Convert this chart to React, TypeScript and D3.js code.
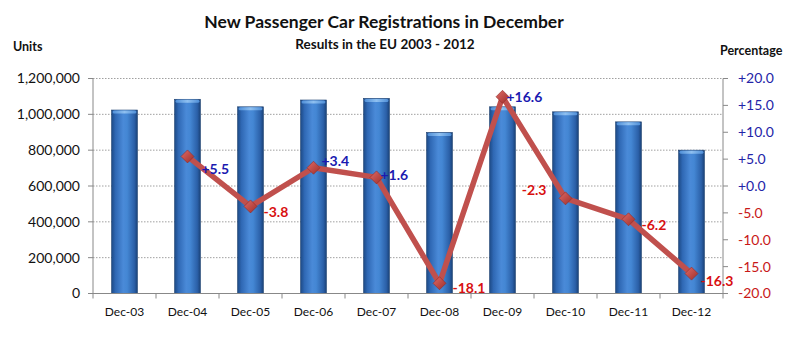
import React from "react";
import * as d3 from "d3";

const categories = ["Dec-03", "Dec-04", "Dec-05", "Dec-06", "Dec-07", "Dec-08", "Dec-09", "Dec-10", "Dec-11", "Dec-12"];
const units = [1024000, 1084000, 1042000, 1080000, 1089000, 899000, 1042000, 1014000, 958000, 800000];
const pctCategories = ["Dec-04", "Dec-05", "Dec-06", "Dec-07", "Dec-08", "Dec-09", "Dec-10", "Dec-11", "Dec-12"];
const pctChange = [5.5, -3.8, 3.4, 1.6, -18.1, 16.6, -2.3, -6.2, -16.3];
const leftTicks = [0, 200000, 400000, 600000, 800000, 1000000, 1200000];
const rightTicks = [20, 15, 10, 5, 0, -5, -10, -15, -20];
// label offsets relative to the marker (layout, not data)
const labelOffsets: [number, number, string][] = [
  [14, 13, "start"], [13, 6, "start"], [8, -7, "start"], [4, -2, "start"],
  [13, 5, "start"], [4, 0, "start"], [-19, -8, "end"], [13, 6, "start"], [9, 7, "start"],
];

const W = 800, H = 342;
const left = 93, right = 723, top = 78.5, bottom = 293.5;
const FONT = "Lato, 'Open Sans', sans-serif";
const BLUE = "#1a1ab0";
const RED = "#d81010";

export default function App() {
  const x = d3.scaleBand<string>().domain(categories).range([left, right]).paddingInner(0.59).paddingOuter(0.295);
  const band = d3.scaleBand<string>().domain(categories).range([left, right]);
  const y = d3.scaleLinear().domain([0, 1200000]).range([bottom, top]);
  const y2 = d3.scaleLinear().domain([-20, 20]).range([bottom, top]);
  const fmt = d3.format(",");
  const cx = (c: string) => (band(c) as number) + band.bandwidth() / 2;
  const pts = pctCategories.map((c, i) => [cx(c), y2(pctChange[i])] as [number, number]);
  const line = d3.line()(pts) as string;
  const fmtPct = (v: number) => (v >= 0 ? "+" : "") + v.toFixed(1);

  return (
    <svg width={W} height={H} style={{ position: "absolute", left: 0, top: 0, background: "#fff" }} fontFamily={FONT}>
      <defs>
        <linearGradient id="barG" x1="0" x2="1" y1="0" y2="0">
          <stop offset="0" stopColor="#1d4a86" />
          <stop offset="0.15" stopColor="#2f68b4" />
          <stop offset="0.45" stopColor="#4a8ad8" />
          <stop offset="0.6" stopColor="#4487d4" />
          <stop offset="0.88" stopColor="#2b60a8" />
          <stop offset="1" stopColor="#1a4278" />
        </linearGradient>
        <linearGradient id="capG" x1="0" x2="1" y1="0" y2="0">
          <stop offset="0" stopColor="#4f8fd8" />
          <stop offset="0.5" stopColor="#8fc0f0" />
          <stop offset="1" stopColor="#4f8fd8" />
        </linearGradient>
        <linearGradient id="mkG" x1="0" x2="1" y1="0" y2="1">
          <stop offset="0" stopColor="#e06a66" />
          <stop offset="1" stopColor="#9e2e2a" />
        </linearGradient>
      </defs>

      <text x={384} y={28} textAnchor="middle" fontSize={17.5} fontWeight="bold" fill="#111">New Passenger Car Registrations in December</text>
      <text x={385} y={49} textAnchor="middle" fontSize={13.5} fontWeight="bold" fill="#111">Results in the EU 2003 - 2012</text>
      <text x={13} y={51} fontSize={12.5} fontWeight="bold" fill="#111">Units</text>
      <text x={720} y={55} fontSize={12.5} fontWeight="bold" fill="#111">Percentage</text>

      {leftTicks.filter((t) => t > 0).map((t) => (
        <line key={t} x1={left} x2={right} y1={y(t)} y2={y(t)} stroke="#a0a0a0" strokeWidth={1} strokeDasharray="1.5,1.5" />
      ))}

      {categories.map((c, i) => {
        const bx = x(c) as number;
        const bw = x.bandwidth();
        const by = y(units[i]);
        return (
          <g key={c}>
            <rect x={bx} y={by} width={bw} height={bottom - by} fill="url(#barG)" stroke="#1c3f6e" strokeWidth={0.6} />
            <rect x={bx + 1} y={by + 0.5} width={bw - 2} height={3} rx={1.5} fill="url(#capG)" />
          </g>
        );
      })}

      <line x1={left} x2={left} y1={top} y2={bottom} stroke="#888" />
      <line x1={right} x2={right} y1={top} y2={bottom} stroke="#888" />
      <line x1={left} x2={right} y1={bottom} y2={bottom} stroke="#888" />
      {leftTicks.map((t) => (
        <g key={t}>
          <line x1={left - 5} x2={left} y1={y(t)} y2={y(t)} stroke="#888" />
          <text x={80} y={y(t)} dy="0.35em" textAnchor="end" fontSize={14} fill="#111">{fmt(t)}</text>
        </g>
      ))}
      {rightTicks.map((t) => (
        <g key={t}>
          <line x1={right} x2={right + 5} y1={y2(t)} y2={y2(t)} stroke="#888" />
          <text x={738} y={y2(t)} dy="0.35em" fontSize={14} fill={t >= 0 ? "#2424a8" : "#c81818"}>{fmtPct(t)}</text>
        </g>
      ))}
      {categories.map((c) => (
        <line key={"t" + c} x1={band(c) as number} x2={band(c) as number} y1={bottom} y2={bottom + 5} stroke="#888" />
      ))}
      <line x1={right} x2={right} y1={bottom} y2={bottom + 5} stroke="#888" />
      {categories.map((c) => (
        <text key={"l" + c} x={cx(c)} y={312} dy="0.35em" textAnchor="middle" fontSize={12} fill="#111">{c}</text>
      ))}

      <path d={line} fill="none" stroke="#c0504d" strokeWidth={5.5} strokeLinejoin="round" />
      {pts.map(([px, py], i) => (
        <path key={i} d={`M${px},${py - 6.5}L${px + 6.5},${py}L${px},${py + 6.5}L${px - 6.5},${py}Z`} fill="url(#mkG)" stroke="#8e2a26" strokeWidth={0.6} />
      ))}
      {pts.map(([px, py], i) => {
        const [dx, dy, anchor] = labelOffsets[i];
        const v = pctChange[i];
        return (
          <text key={"p" + i} x={px + dx} y={py + dy} dy="0.35em" textAnchor={anchor as any} fontSize={14} fontWeight="bold" fill={v >= 0 ? BLUE : RED}>{fmtPct(v)}</text>
        );
      })}
    </svg>
  );
}
